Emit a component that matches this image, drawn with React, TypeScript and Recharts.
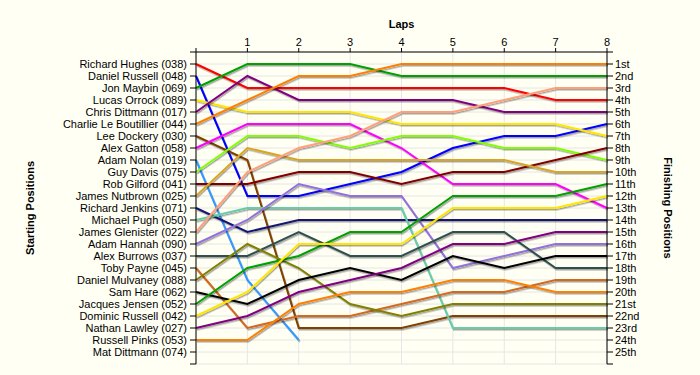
import { LineChart, Line, XAxis, YAxis, CartesianGrid, Label } from 'recharts';

const laps = [0, 1, 2, 3, 4, 5, 6, 7, 8];

const drivers = [
  'Richard Hughes (038)',
  'Daniel Russell (048)',
  'Jon Maybin (069)',
  'Lucas Orrock (089)',
  'Chris Dittmann (017)',
  'Charlie Le Boutillier (044)',
  'Lee Dockery (030)',
  'Alex Gatton (058)',
  'Adam Nolan (019)',
  'Guy Davis (075)',
  'Rob Gilford (041)',
  'James Nutbrown (025)',
  'Richard Jenkins (071)',
  'Michael Pugh (050)',
  'James Glenister (022)',
  'Adam Hannah (090)',
  'Alex Burrows (037)',
  'Toby Payne (045)',
  'Daniel Mulvaney (088)',
  'Sam Hare (062)',
  'Jacques Jensen (052)',
  'Dominic Russell (042)',
  'Nathan Lawley (027)',
  'Russell Pinks (053)',
  'Mat Dittmann (074)',
];

const finishing = [
  '1st', '2nd', '3rd', '4th', '5th', '6th', '7th', '8th', '9th', '10th',
  '11th', '12th', '13th', '14th', '15th', '16th', '17th', '18th', '19th', '20th',
  '21st', '22nd', '23rd', '24th', '25th',
];

// position after each lap (lap 0 = grid)
const richardHughes = [1, 3, 3, 3, 3, 3, 3, 4, 4];
const danielRussell = [2, 12, 12, 11, 10, 8, 7, 7, 6];
const jonMaybin = [3, 1, 1, 1, 2, 2, 2, 2, 2];
const lucasOrrock = [4, 5, 5, 5, 6, 6, 6, 6, 7];
const chrisDittmann = [5, 2, 4, 4, 4, 4, 5, 5, 5];
const charlieLeBoutillier = [6, 4, 2, 2, 1, 1, 1, 1, 1];
const leeDockery = [7, 9, 23, 23, 23, 22, 22, 22, 22];
const alexGatton = [8, 6, 6, 6, 8, 11, 11, 11, 13];
const adamNolan = [9, 19, 24, null, null, null, null, null, null];
const guyDavis = [10, 7, 7, 8, 7, 7, 8, 8, 9];
const robGilford = [11, 11, 10, 10, 11, 10, 10, 9, 8];
const jamesNutbrown = [12, 8, 9, 9, 9, 9, 9, 10, 10];
const richardJenkins = [13, 15, 14, 14, 14, 14, 14, 14, 14];
const michaelPugh = [14, 13, 13, 13, 13, 23, 23, 23, 23];
const jamesGlenister = [15, 10, 8, 7, 5, 5, 4, 3, 3];
const adamHannah = [16, 14, 11, 12, 12, 18, 17, 16, 16];
const alexBurrows = [17, 17, 15, 17, 17, 15, 15, 18, 18];
const tobyPayne = [18, 23, 22, 22, 21, 20, 20, 19, 19];
const danielMulvaney = [19, 16, 18, 21, 22, 21, 21, 21, 21];
const samHare = [20, 21, 19, 18, 19, 17, 18, 17, 17];
const jacquesJensen = [21, 18, 17, 15, 15, 12, 12, 12, 11];
const dominicRussell = [22, 20, 16, 16, 16, 13, 13, 13, 12];
const nathanLawley = [23, 22, 20, 19, 18, 16, 16, 15, 15];
const russellPinks = [24, 24, 21, 20, 20, 19, 19, 20, 20];

const series = [
  richardHughes, danielRussell, jonMaybin, lucasOrrock, chrisDittmann,
  charlieLeBoutillier, leeDockery, alexGatton, adamNolan, guyDavis,
  robGilford, jamesNutbrown, richardJenkins, michaelPugh, jamesGlenister,
  adamHannah, alexBurrows, tobyPayne, danielMulvaney, samHare,
  jacquesJensen, dominicRussell, nathanLawley, russellPinks,
];

const colors = [
  '#ff0000', '#0000ff', '#00a000', '#ffe600', '#800080',
  '#ff8000', '#804000', '#ff00ff', '#3399ff', '#80ff00',
  '#800000', '#daa520', '#191970', '#66cdaa', '#ffa07a',
  '#9370db', '#2f4f4f', '#d2691e', '#808000', '#000000',
  '#00a000', '#ffe600', '#800080', '#ff8000',
];

const positionTicks = Array.from({ length: 27 }, (_, i) => i);

const chartData = laps.map((lap, i) => {
  const row: Record<string, number | null> = { lap };
  series.forEach((s, j) => {
    row[drivers[j]] = s[i];
  });
  return row;
});

const bg = '#fffff4';
const font = '"Liberation Sans", Arial, sans-serif';

const SideTitle = ({ text, x, angle }: { text: string; x: number; angle: number }) => (
  <text
    x={x}
    y={208}
    transform={`rotate(${angle}, ${x}, 208)`}
    textAnchor="middle"
    dominantBaseline="central"
    fontSize={11}
    fontWeight="bold"
    fill="#000"
    fontFamily={font}
  >
    {text}
  </text>
);

export default function App() {
  return (
    <div style={{ width: 700, height: 375, background: bg }}>
      <style>{'body{margin:0}'}</style>
      <LineChart
        width={700}
        height={375}
        data={chartData}
        margin={{ top: 0, right: 0, bottom: 11, left: 0 }}
        style={{ fontFamily: font }}
      >
        <defs>
          <filter id="lineShadow" filterUnits="userSpaceOnUse" x="0" y="0" width="700" height="375">
            <feDropShadow dx="1" dy="1.5" stdDeviation="0.4" floodColor="#000" floodOpacity="0.35" />
          </filter>
        </defs>
        <CartesianGrid stroke="#e6e6e6" strokeWidth={1} yAxisId="left" />
        <XAxis
          dataKey="lap"
          type="number"
          orientation="top"
          domain={[0, 8]}
          ticks={laps}
          tickFormatter={(v: number) => (v === 0 ? '' : String(v))}
          height={52}
          axisLine={{ stroke: '#000' }}
          tickLine={{ stroke: '#000' }}
          tick={{ fill: '#000', fontSize: 11 }}
          tickSize={4}
          tickMargin={2}
          interval={0}
        >
          <Label value="Laps" position="insideTop" offset={20} fontSize={11} fontWeight="bold" fill="#000" />
        </XAxis>
        <YAxis
          yAxisId="left"
          type="number"
          domain={[0, 26]}
          reversed
          ticks={positionTicks}
          interval={0}
          tickFormatter={(v: number) => drivers[v - 1] ?? ''}
          width={196}
          axisLine={{ stroke: '#000' }}
          tickLine={{ stroke: '#000' }}
          tick={{ fill: '#000', fontSize: 11 }}
          tickSize={6}
          tickMargin={3}
        >
          <Label content={() => <SideTitle text="Starting Positions" x={30} angle={-90} />} />
        </YAxis>
        <YAxis
          yAxisId="right"
          orientation="right"
          type="number"
          domain={[0, 26]}
          reversed
          ticks={positionTicks}
          interval={0}
          tickFormatter={(v: number) => finishing[v - 1] ?? ''}
          width={93}
          axisLine={{ stroke: '#000' }}
          tickLine={{ stroke: '#000' }}
          tick={{ fill: '#000', fontSize: 11 }}
          tickSize={6}
          tickMargin={2}
        >
          <Label content={() => <SideTitle text="Finishing Positions" x={668} angle={90} />} />
        </YAxis>
        {series.map((_, j) => (
          <Line
            key={drivers[j]}
            yAxisId="left"
            type="linear"
            dataKey={drivers[j]}
            stroke={colors[j]}
            strokeWidth={2}
            dot={false}
            activeDot={false}
            filter="url(#lineShadow)"
            isAnimationActive={false}
          />
        ))}
        <Line
          yAxisId="right"
          dataKey={drivers[0]}
          stroke="transparent"
          dot={false}
          activeDot={false}
          isAnimationActive={false}
        />
      </LineChart>
    </div>
  );
}
